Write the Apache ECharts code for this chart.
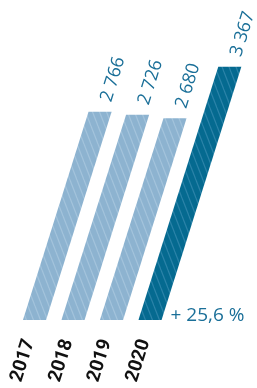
<!DOCTYPE html>
<html>
<head>
<meta charset="utf-8">
<script src="https://cdn.jsdelivr.net/npm/echarts@6/dist/echarts.min.js"></script>
<style>html,body{margin:0;padding:0;background:#fff;}#c{width:257px;height:388px;}</style>
</head>
<body>
<div id="c"></div>
<script>
var years = ['2017', '2018', '2019', '2020'];
var values = [2766, 2726, 2680, 3367];
var valueLabels = ['2 766', '2 726', '2 680', '3 367'];
var changeLabel = '+ 25,6 %';

function makePattern(bg, line) {
  var w = 7, h = 18;
  var c = document.createElement('canvas');
  c.width = w; c.height = h;
  var ctx = c.getContext('2d');
  ctx.fillStyle = bg; ctx.fillRect(0, 0, w, h);
  ctx.strokeStyle = line; ctx.lineWidth = 1.2;
  for (var k = -1; k <= 1; k++) {
    ctx.beginPath();
    ctx.moveTo(k * w, 0);
    ctx.lineTo(k * w + w, h);
    ctx.stroke();
  }
  return { image: c, repeat: 'repeat' };
}
var lightFill = makePattern('#8db3d0', '#a3c3db');
var darkFill = makePattern('#056a90', '#2b83a8');

var K = 0.315;            // horizontal shift per pixel of height (slant)
var ANG = Math.atan(1 / K); // label rotation
var teal = '#1a6f98';
var font = "'Open Sans', sans-serif";

var chart = echarts.init(document.getElementById('c'), null, { renderer: 'canvas' });
chart.setOption({
  animation: false,
  grid: { left: 15.25, right: 87.75, top: 19, bottom: 68 },
  xAxis: { type: 'category', data: years, show: false },
  yAxis: { type: 'value', min: 0, max: 4000, interval: 1000, show: false },
  series: [{
    type: 'custom',
    data: values.map(function (v, i) { return [i, v]; }),
    renderItem: function (params, api) {
      var i = params.dataIndex;
      var b = api.coord([api.value(0), 0]);
      var t = api.coord([api.value(0), api.value(1)]);
      var w = api.size([1, 0])[0] * 0.6;
      var dx = (b[1] - t[1]) * K;
      var pts = [
        [b[0] - w / 2, b[1]],
        [b[0] + w / 2, b[1]],
        [b[0] + w / 2 + dx, t[1]],
        [b[0] - w / 2 + dx, t[1]]
      ];
      var last = i === values.length - 1;
      var children = [
        { type: 'polygon', shape: { points: pts }, style: { fill: last ? darkFill : lightFill } },
        {
          type: 'text', x: pts[2][0] + 3, y: pts[2][1] - 8, rotation: ANG,
          style: { text: valueLabels[i], fill: teal, fontSize: 18, fontFamily: font, fontWeight: 'normal', align: 'left', verticalAlign: 'bottom' }
        },
        {
          type: 'text', x: b[0] - 5, y: b[1] + 20, rotation: ANG,
          style: { text: years[i], fill: '#111', fontSize: 19, fontFamily: 'Roboto, sans-serif', fontWeight: 'bold', align: 'right', verticalAlign: 'middle' }
        }
      ];
      if (last) {
        children.push({
          type: 'text', x: pts[1][0] + 9, y: b[1] + 5,
          style: { text: changeLabel, fill: teal, fontSize: 19, fontFamily: font, fontWeight: 'normal', align: 'left', verticalAlign: 'bottom' }
        });
      }
      return { type: 'group', children: children };
    }
  }]
});
</script>
</body>
</html>
